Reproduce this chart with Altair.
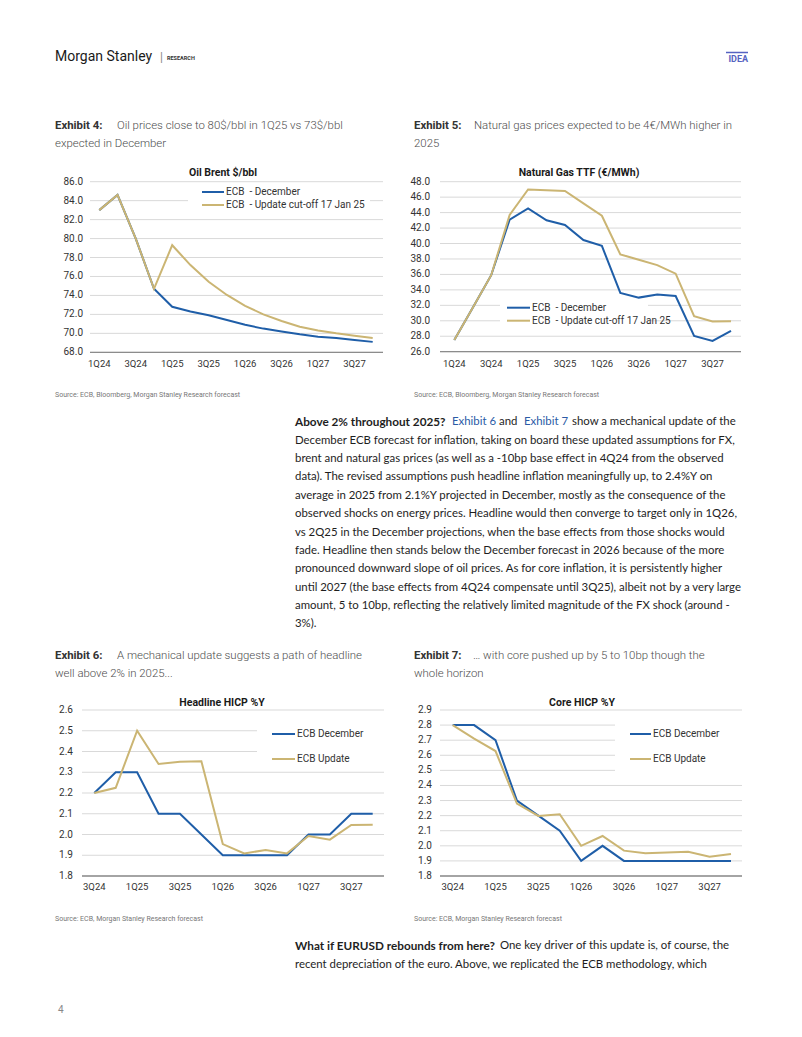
import altair as alt
import pandas as pd

# ---------------- data ----------------
QUARTERS = ["1Q24", "2Q24", "3Q24", "4Q24", "1Q25", "2Q25", "3Q25", "4Q25",
            "1Q26", "2Q26", "3Q26", "4Q26", "1Q27", "2Q27", "3Q27", "4Q27"]
HICP_QUARTERS = QUARTERS[2:]

OIL_DEC = [83.0, 84.6, 80.0, 74.7, 72.8, 72.3, 71.9, 71.4, 70.9, 70.5, 70.2, 69.9, 69.65, 69.5, 69.3, 69.1]
OIL_UPD = [83.0, 84.6, 80.0, 74.7, 79.3, 77.2, 75.45, 74.05, 72.9, 72.0, 71.3, 70.7, 70.3, 70.0, 69.75, 69.5]

GAS_DEC = [27.5, 31.7, 35.9, 43.1, 44.55, 43.0, 42.4, 40.45, 39.7, 33.6, 33.0, 33.4, 33.2, 28.05, 27.4, 28.7]
GAS_UPD = [27.5, 31.7, 35.9, 43.7, 47.0, 46.9, 46.8, 45.2, 43.6, 38.6, 37.9, 37.2, 36.1, 30.6, 29.9, 29.95]

HL_DEC = [2.2, 2.3, 2.3, 2.1, 2.1, 2.0, 1.9, 1.9, 1.9, 1.9, 2.0, 2.0, 2.1, 2.1]
HL_UPD = [2.2, 2.225, 2.5, 2.34, 2.351, 2.353, 1.954, 1.909, 1.925, 1.909, 1.993, 1.975, 2.046, 2.047]

CORE_DEC = [2.8, 2.8, 2.7, 2.3, 2.2, 2.1, 1.9, 2.0, 1.9, 1.9, 1.9, 1.9, 1.9, 1.9]
CORE_UPD = [2.8, 2.71, 2.628, 2.28, 2.198, 2.209, 2.0, 2.065, 1.968, 1.95, 1.955, 1.96, 1.928, 1.946]

ENERGY_NAMES = ["ECB\u00a0 - December", "ECB\u00a0 - Update cut-off 17 Jan 25"]
HICP_NAMES = ["ECB December", "ECB Update"]

OIL_TICKS = [68, 70, 72, 74, 76, 78, 80, 82, 84, 86]
GAS_TICKS = [26, 28, 30, 32, 34, 36, 38, 40, 42, 44, 46, 48]
HL_TICKS = [1.8, 1.9, 2.0, 2.1, 2.2, 2.3, 2.4, 2.5, 2.6]
CORE_TICKS = [1.8, 1.9, 2.0, 2.1, 2.2, 2.3, 2.4, 2.5, 2.6, 2.7, 2.8, 2.9]

TITLES = ["Oil Brent $/bbl", "Natural Gas TTF (€/MWh)", "Headline HICP %Y", "Core HICP %Y"]

EXHIBITS = [
    ("Exhibit 4:", "Oil prices close to 80$/bbl in 1Q25 vs 73$/bbl", "expected in December"),
    ("Exhibit 5:", "Natural gas prices expected to be 4€/MWh higher in", "2025"),
    ("Exhibit 6:", "A mechanical update suggests a path of headline", "well above 2% in 2025..."),
    ("Exhibit 7:", "… with core pushed up by 5 to 10bp though the", "whole horizon"),
]
SOURCE_TOP = "Source: ECB, Bloomberg, Morgan Stanley Research forecast"
SOURCE_BOTTOM = "Source: ECB, Morgan Stanley Research forecast"

PARA1_LEAD = ["Above 2% throughout 2025?", "Exhibit 6", "and", "Exhibit 7", "show a mechanical update of the"]
PARA1_LINES = [
    "December ECB forecast for inflation, taking on board these updated assumptions for FX,",
    "brent and natural gas prices (as well as a -10bp base effect in 4Q24 from the observed",
    "data). The revised assumptions push headline inflation meaningfully up, to 2.4%Y on",
    "average in 2025 from 2.1%Y projected in December, mostly as the consequence of the",
    "observed shocks on energy prices. Headline would then converge to target only in 1Q26,",
    "vs 2Q25 in the December projections, when the base effects from those shocks would",
    "fade. Headline then stands below the December forecast in 2026 because of the more",
    "pronounced downward slope of oil prices. As for core inflation, it is persistently higher",
    "until 2027 (the base effects from 4Q24 compensate until 3Q25), albeit not by a very large",
    "amount, 5 to 10bp, reflecting the relatively limited magnitude of the FX shock (around -",
    "3%).",
]
PARA2_LEAD = ["What if EURUSD rebounds from here?", "One key driver of this update is, of course, the"]
PARA2_LINES = ["recent depreciation of the euro. Above, we replicated the ECB methodology, which"]

# ---------------- styles ----------------
BLUE = "#1f5ea8"
GOLD = "#cbb573"
GRID = "#d9d9d9"
AXIS = "#8c8c8c"
LAB = "#333333"
CFONT = "Roboto"
BFONT = "Lato"


def txt(s, x, y, size=12, weight="normal", color="#333333", font=CFONT, align="left", baseline="middle", **kw):
    return alt.Chart(pd.DataFrame({"t": [s]})).mark_text(
        align=align, baseline=baseline, fontSize=size, fontWeight=weight, color=color, font=font, **kw
    ).encode(text="t:N", x=alt.value(x), y=alt.value(y))


def panel(quarters, dec, upd, names, ticks, fmt, title, g):
    xs = alt.Scale(type="point", domain=quarters, range=[g["x0"], g["x1"]], padding=0)
    ys = alt.Scale(domain=[ticks[0], ticks[-1]], range=[g["yb"], g["yt"]], nice=False, zero=False)
    cs = alt.Scale(domain=names, range=[BLUE, GOLD])
    n = len(quarters)
    df = pd.DataFrame({
        "q": quarters * 2,
        "i": list(range(n)) * 2,
        "value": dec + upd,
        "series": [names[0]] * n + [names[1]] * n,
    })
    tdf = pd.DataFrame({"v": ticks})
    X = lambda f: alt.X(f, scale=xs, axis=None)
    Y = lambda f: alt.Y(f, scale=ys, axis=None)

    grid = alt.Chart(tdf).mark_rule(color=GRID, strokeWidth=1).encode(
        y=Y("v:Q"), x=alt.value(g["gx0"]), x2=alt.value(g["gx1"]))
    base = alt.Chart(pd.DataFrame({"v": [ticks[0]]})).mark_rule(color=AXIS, strokeWidth=1.3).encode(
        y=Y("v:Q"), x=alt.value(g["gx0"]), x2=alt.value(g["gx1"]))
    ylab = alt.Chart(tdf).mark_text(align="right", baseline="middle", font=CFONT, fontSize=10,
                                    color=LAB).encode(
        y=Y("v:Q"), x=alt.value(g["lx"]), text=alt.Text("v:Q", format=fmt))
    xlab = alt.Chart(pd.DataFrame({"q": quarters[::2]})).mark_text(
        align="center", baseline="middle", font=CFONT, fontSize=9.5, color=LAB).encode(
        x=X("q:O"), y=alt.value(g["ly"]), text="q:N")
    box = alt.Chart(pd.DataFrame({"a": [0]})).mark_rect(color="white").encode(
        x=alt.value(g["bx0"]), x2=alt.value(g["bx1"]), y=alt.value(g["by0"]), y2=alt.value(g["by1"]))
    layers = [grid, base, ylab, xlab, box]
    for nm in names:
        layers.append(
            alt.Chart(df).transform_filter(alt.datum.series == nm).mark_line(strokeWidth=2).encode(
                x=X("q:O"), y=Y("value:Q"),
                color=alt.Color("series:N", scale=cs, legend=None),
                order="i:Q"))
    for k, nm in enumerate(names):
        ly = g["legy"][k]
        ldf = pd.DataFrame({"series": [nm]})
        layers.append(alt.Chart(ldf).mark_rule(strokeWidth=2).encode(
            x=alt.value(g["sx0"]), x2=alt.value(g["sx1"]), y=alt.value(ly),
            color=alt.Color("series:N", scale=cs, legend=None)))
        layers.append(alt.Chart(ldf).mark_text(align="left", baseline="middle", font=CFONT,
                                               fontSize=10, color=LAB).encode(
            x=alt.value(g["tx"]), y=alt.value(ly), text="series:N"))
    layers.append(txt(title, g["cx"], g["cy"], size=10.5, weight="bold", color="#1a1a1a", align="center"))
    return alt.layer(*layers)


oil = panel(QUARTERS, OIL_DEC, OIL_UPD, ENERGY_NAMES, OIL_TICKS, ".1f", TITLES[0], dict(
    x0=91.3, x1=364.7, yb=344.3, yt=173.7, gx0=82, gx1=375, lx=75, ly=356,
    bx0=180, bx1=362, by0=176, by1=204, sx0=194, sx1=216, tx=218, legy=[184, 197], cx=215, cy=165))
gas = panel(QUARTERS, GAS_DEC, GAS_UPD, ENERGY_NAMES, GAS_TICKS, ".1f", TITLES[1], dict(
    x0=446.3, x1=723, yb=343.7, yt=173.7, gx0=432, gx1=733, lx=422, ly=356,
    bx0=492, bx1=640, by0=290, by1=320, sx0=499, sx1=522, tx=524, legy=[299.7, 312.7], cx=571, cy=165))
hl = panel(HICP_QUARTERS, HL_DEC, HL_UPD, HICP_NAMES, HL_TICKS, ".1f", TITLES[2], dict(
    x0=86.3, x1=364.7, yb=868, yt=702, gx0=74, gx1=376, lx=65, ly=879,
    bx0=249, bx1=376, by0=708, by1=763, sx0=264, sx1=287, tx=289, legy=[726, 751], cx=214, cy=695))
core = panel(HICP_QUARTERS, CORE_DEC, CORE_UPD, HICP_NAMES, CORE_TICKS, ".1f", TITLES[3], dict(
    x0=444.7, x1=723, yb=868, yt=702, gx0=432, gx1=734, lx=424, ly=879,
    bx0=607, bx1=734, by0=708, by1=763, sx0=622, sx1=643, tx=645, legy=[726, 751], cx=574, cy=695))

texts = []
# header
texts.append(txt("Morgan Stanley", 47, 49, size=14, color="#1a1a1a", font=CFONT))
texts.append(txt("|", 152, 49, size=12, color="#888888", font=CFONT))
texts.append(txt("RESEARCH", 159, 50, size=5.5, weight="bold", color="#333333", font=CFONT))
texts.append(txt("IDEA", 740, 51, size=9, weight="bold", color="#5563c1", font=CFONT, align="right"))
texts.append(alt.Chart(pd.DataFrame({"a": [0]})).mark_rule(color="#5563c1", strokeWidth=1.5).encode(
    x=alt.value(718), x2=alt.value(740), y=alt.value(44.5)))

# exhibit titles
ES = 11.4
ex_pos = [(47, 109, 118, 136), (406, 466, 118, 136), (47, 109, 648, 666), (406, 465, 648, 666)]
for (lab, l1, l2), (xa, xb, y1, y2) in zip(EXHIBITS, ex_pos):
    texts.append(txt(lab, xa, y1, size=ES, weight="bold", color="#333333", font=CFONT))
    texts.append(txt(l1, xb, y1, size=ES, weight=300, color="#4d4d4d", font=CFONT))
    texts.append(txt(l2, xa, y2, size=ES, weight=300, color="#4d4d4d", font=CFONT))

# sources
for x, y, s in [(47, 387, SOURCE_TOP), (406, 387, SOURCE_TOP), (47, 911, SOURCE_BOTTOM), (406, 911, SOURCE_BOTTOM)]:
    texts.append(txt(s, x, y, size=7, color="#777777", font=CFONT))

# paragraph 1
BS = 11.4
BB = 11.75
LH = 18.35
p1x = [287, 444, 491, 516, 564]
for k, (s, x) in enumerate(zip(PARA1_LEAD, p1x)):
    texts.append(txt(s, x, 414, size=BB if k == 0 else BS, font=BFONT,
                     weight="bold" if k == 0 else "normal",
                     color="#2b5ba6" if k in (1, 3) else "#1e1e1e"))
texts.append(txt("\n".join(PARA1_LINES), 287, 414 + LH - 0.49 * BS, size=BS, font=BFONT,
                 color="#1e1e1e", baseline="top", lineBreak="\n", lineHeight=LH))

# paragraph 2
texts.append(txt(PARA2_LEAD[0], 287, 938, size=BB, font=BFONT, weight="bold", color="#1e1e1e"))
texts.append(txt(PARA2_LEAD[1], 492, 938, size=BS, font=BFONT, color="#1e1e1e"))
texts.append(txt("\n".join(PARA2_LINES), 287, 938 + LH - 0.49 * BS, size=BS, font=BFONT,
                 color="#1e1e1e", baseline="top", lineBreak="\n", lineHeight=LH))

# page number
texts.append(txt("4", 50, 1002, size=10, color="#888888", font=CFONT))

chart = alt.layer(oil, gas, hl, core, *texts).resolve_scale(
    x="independent", y="independent", color="independent"
).properties(
    width=786, height=1021, padding=0, background="white",
    autosize=alt.AutoSizeParams(type="none"),
).configure_view(strokeWidth=0)

chart.save("out.html", embed_options={"renderer": "svg", "actions": False})
